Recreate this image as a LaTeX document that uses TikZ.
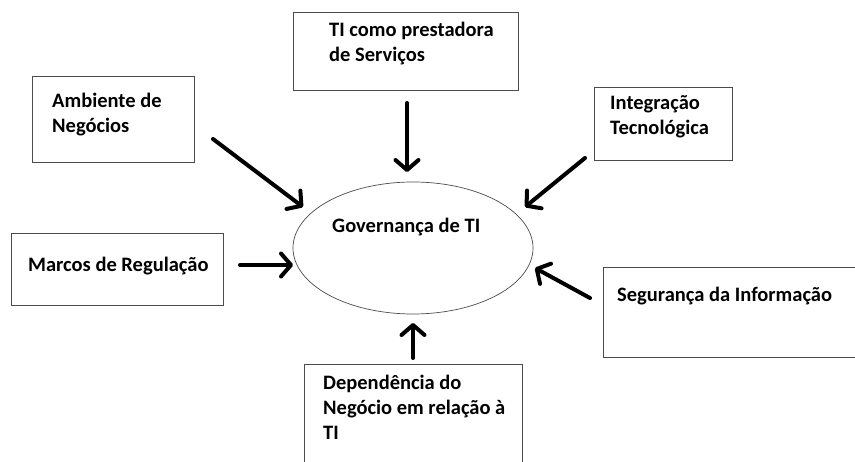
\documentclass[tikz,border=0pt]{standalone}
\usepackage{fontspec}
\setmainfont{Carlito}
\usetikzlibrary{arrows.meta,shapes.geometric}
\tikzset{
  boxnode/.style={draw=black!70, line width=1pt, rectangle, inner sep=0pt, anchor=north west},
  label text/.style={font=\bfseries\fontsize{20.5}{25.5}\selectfont, anchor=base west, inner sep=0pt, align=left},
  bigarrow/.style={line width=4pt, line cap=round, -{Straight Barb[length=10pt,width=23pt,line cap=round,line join=round]}}
}
\begin{document}
\begin{tikzpicture}[x=1pt,y=-1pt]
\useasboundingbox (0,0) rectangle (855,462);
\clip (0,0) rectangle (855,462);
\fill[white] (0,0) rectangle (855,462);
% boxes
\node[boxnode, minimum width=162pt, minimum height=86pt] (amb) at (32,76) {};
\node[boxnode, minimum width=225pt, minimum height=78pt] (ti) at (293,12) {};
\node[boxnode, minimum width=138pt, minimum height=73pt] (integ) at (594,87) {};
\node[boxnode, minimum width=212pt, minimum height=72pt] (marcos) at (11,233) {};
\node[boxnode, minimum width=270pt, minimum height=90pt] (seg) at (603,267) {};
\node[boxnode, minimum width=218pt, minimum height=120pt] (dep) at (304,364) {};
% ellipse
\node[draw=black!70, line width=0.7pt, ellipse, minimum width=240pt, minimum height=132pt, inner sep=0pt] (gov) at (413,248) {};
% texts (anchor = baseline of the last line)
\node[label text] (ambT) at (52,133) {Ambiente de\\Negócios};
\node[label text] (tiT) at (329,62) {TI como prestadora\\de Serviços};
\node[label text] (integT) at (610,135) {Integração\\Tecnológica};
\node[label text] (marcosT) at (28,272) {Marcos de Regulação};
\node[label text] (segT) at (617,302) {Segurança da Informação};
\node[label text] (depT) at (323,440) {Dependência do\\Negócio em relação à\\TI};
\node[label text] (govT) at (332,233) {Governança de TI};
% arrow ends
\coordinate (a1) at (213,139); \coordinate (b1) at (303,207);
\coordinate (a2) at (407,103); \coordinate (b2) at (407,172);
\coordinate (a3) at (585,158); \coordinate (b3) at (525,207);
\coordinate (a4) at (240,265); \coordinate (b4) at (293,265);
\coordinate (a5) at (590,298); \coordinate (b5) at (535,268);
\coordinate (a6) at (413,358); \coordinate (b6) at (413,323);
\draw[bigarrow] (a1) -- (b1);
\draw[bigarrow] (a2) -- (b2);
\draw[bigarrow] (a3) -- (b3);
\draw[bigarrow] (a4) -- (b4);
\draw[bigarrow] (a5) -- (b5);
\draw[bigarrow] (a6) -- (b6);
\end{tikzpicture}
\end{document}
